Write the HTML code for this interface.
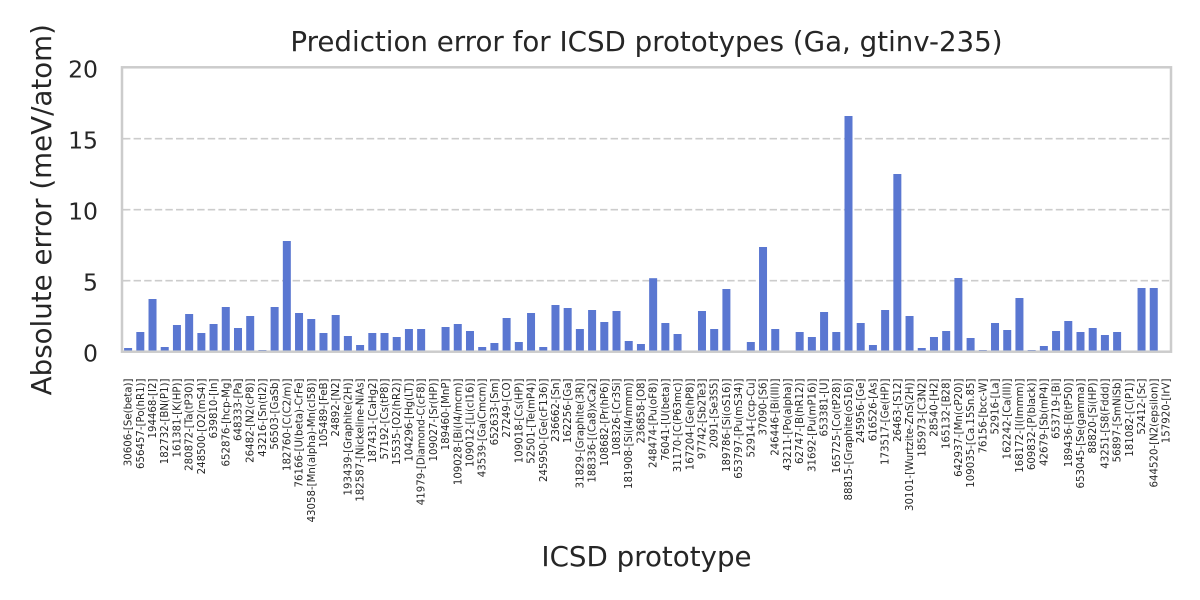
<!DOCTYPE html>
<html><head><meta charset="utf-8"><style>
html,body{margin:0;padding:0;background:#fff;}
svg{display:block;}
text{font-family:"DejaVu Sans","Liberation Sans",sans-serif;fill:#262626;}
.xt{font-size:10.2px;}
.yt{font-size:23.5px;}
.lab{font-size:27.7px;}
</style></head><body>
<svg width="1200" height="600" viewBox="0 0 1200 600" xmlns="http://www.w3.org/2000/svg">
<rect width="1200" height="600" fill="#fff"/>
<g stroke="#cccccc" stroke-width="1.7" stroke-dasharray="7.4 3.2">
<line x1="123" y1="280.7" x2="1171" y2="280.7"/>
<line x1="123" y1="209.7" x2="1171" y2="209.7"/>
<line x1="123" y1="138.7" x2="1171" y2="138.7"/>
</g>
<g fill="#5a77d1">
<rect x="124.10" y="348.0" width="8" height="3.7"/>
<rect x="136.31" y="332.0" width="8" height="19.7"/>
<rect x="148.52" y="299.0" width="8" height="52.7"/>
<rect x="160.73" y="347.0" width="8" height="4.7"/>
<rect x="172.94" y="325.0" width="8" height="26.7"/>
<rect x="185.15" y="314.0" width="8" height="37.7"/>
<rect x="197.36" y="333.0" width="8" height="18.7"/>
<rect x="209.57" y="324.0" width="8" height="27.7"/>
<rect x="221.78" y="307.0" width="8" height="44.7"/>
<rect x="233.99" y="328.0" width="8" height="23.7"/>
<rect x="246.20" y="316.0" width="8" height="35.7"/>
<rect x="258.41" y="350.0" width="8" height="1.7"/>
<rect x="270.62" y="307.0" width="8" height="44.7"/>
<rect x="282.83" y="241.0" width="8" height="110.7"/>
<rect x="295.04" y="313.0" width="8" height="38.7"/>
<rect x="307.25" y="319.0" width="8" height="32.7"/>
<rect x="319.46" y="333.0" width="8" height="18.7"/>
<rect x="331.67" y="315.0" width="8" height="36.7"/>
<rect x="343.88" y="336.0" width="8" height="15.7"/>
<rect x="356.09" y="345.0" width="8" height="6.7"/>
<rect x="368.30" y="333.0" width="8" height="18.7"/>
<rect x="380.51" y="333.0" width="8" height="18.7"/>
<rect x="392.72" y="337.0" width="8" height="14.7"/>
<rect x="404.93" y="329.0" width="8" height="22.7"/>
<rect x="417.14" y="329.0" width="8" height="22.7"/>
<rect x="429.35" y="351.0" width="8" height="0.7"/>
<rect x="441.56" y="327.0" width="8" height="24.7"/>
<rect x="453.77" y="324.0" width="8" height="27.7"/>
<rect x="465.98" y="331.0" width="8" height="20.7"/>
<rect x="478.19" y="347.0" width="8" height="4.7"/>
<rect x="490.40" y="343.0" width="8" height="8.7"/>
<rect x="502.61" y="318.0" width="8" height="33.7"/>
<rect x="514.83" y="342.0" width="8" height="9.7"/>
<rect x="527.04" y="313.0" width="8" height="38.7"/>
<rect x="539.25" y="347.0" width="8" height="4.7"/>
<rect x="551.46" y="305.0" width="8" height="46.7"/>
<rect x="563.67" y="308.0" width="8" height="43.7"/>
<rect x="575.88" y="329.0" width="8" height="22.7"/>
<rect x="588.09" y="310.0" width="8" height="41.7"/>
<rect x="600.30" y="322.0" width="8" height="29.7"/>
<rect x="612.51" y="311.0" width="8" height="40.7"/>
<rect x="624.72" y="341.0" width="8" height="10.7"/>
<rect x="636.93" y="344.0" width="8" height="7.7"/>
<rect x="649.14" y="278.2" width="8" height="73.5"/>
<rect x="661.35" y="323.0" width="8" height="28.7"/>
<rect x="673.56" y="334.0" width="8" height="17.7"/>
<rect x="685.77" y="351.0" width="8" height="0.7"/>
<rect x="697.98" y="311.0" width="8" height="40.7"/>
<rect x="710.19" y="329.0" width="8" height="22.7"/>
<rect x="722.40" y="289.0" width="8" height="62.7"/>
<rect x="746.82" y="342.0" width="8" height="9.7"/>
<rect x="759.03" y="247.0" width="8" height="104.7"/>
<rect x="771.24" y="329.0" width="8" height="22.7"/>
<rect x="783.45" y="351.0" width="8" height="0.7"/>
<rect x="795.66" y="332.0" width="8" height="19.7"/>
<rect x="807.87" y="337.0" width="8" height="14.7"/>
<rect x="820.08" y="312.0" width="8" height="39.7"/>
<rect x="832.29" y="332.0" width="8" height="19.7"/>
<rect x="844.50" y="116.0" width="8" height="235.7"/>
<rect x="856.71" y="323.0" width="8" height="28.7"/>
<rect x="868.92" y="345.0" width="8" height="6.7"/>
<rect x="881.13" y="310.0" width="8" height="41.7"/>
<rect x="893.34" y="174.0" width="8" height="177.7"/>
<rect x="905.55" y="316.0" width="8" height="35.7"/>
<rect x="917.76" y="348.0" width="8" height="3.7"/>
<rect x="929.97" y="337.0" width="8" height="14.7"/>
<rect x="942.18" y="331.0" width="8" height="20.7"/>
<rect x="954.39" y="278.0" width="8" height="73.7"/>
<rect x="966.60" y="338.0" width="8" height="13.7"/>
<rect x="978.81" y="350.0" width="8" height="1.7"/>
<rect x="991.02" y="323.0" width="8" height="28.7"/>
<rect x="1003.23" y="330.0" width="8" height="21.7"/>
<rect x="1015.44" y="298.0" width="8" height="53.7"/>
<rect x="1027.65" y="350.0" width="8" height="1.7"/>
<rect x="1039.86" y="346.0" width="8" height="5.7"/>
<rect x="1052.07" y="331.0" width="8" height="20.7"/>
<rect x="1064.28" y="321.0" width="8" height="30.7"/>
<rect x="1076.49" y="332.0" width="8" height="19.7"/>
<rect x="1088.70" y="328.0" width="8" height="23.7"/>
<rect x="1100.91" y="335.0" width="8" height="16.7"/>
<rect x="1113.12" y="332.0" width="8" height="19.7"/>
<rect x="1125.33" y="351.0" width="8" height="0.7"/>
<rect x="1137.54" y="288.0" width="8" height="63.7"/>
<rect x="1149.75" y="288.0" width="8" height="63.7"/>
</g>
<g fill="none" stroke="#cccccc" stroke-width="2.5">
<rect x="122" y="67.3" width="1049" height="284.4"/>
</g>
<g class="yt" text-anchor="end">
<text x="98" y="361.7">0</text>
<text x="98" y="290.7">5</text>
<text x="98" y="219.7">10</text>
<text x="98" y="148.7">15</text>
<text x="98" y="77.7">20</text>
</g>
<g class="xt" text-anchor="end">
<text transform="translate(131.60,378.5) rotate(-90)">30606-[Se(beta)]</text>
<text transform="translate(143.81,378.5) rotate(-90)">656457-[Po(hR1)]</text>
<text transform="translate(156.02,378.5) rotate(-90)">194468-[I2]</text>
<text transform="translate(168.23,378.5) rotate(-90)">182732-[BN(P1)]</text>
<text transform="translate(180.44,378.5) rotate(-90)">161381-[K(HP)]</text>
<text transform="translate(192.65,378.5) rotate(-90)">280872-[Ta(tP30)]</text>
<text transform="translate(204.86,378.5) rotate(-90)">248500-[O2(mS4)]</text>
<text transform="translate(217.07,378.5) rotate(-90)">639810-[In]</text>
<text transform="translate(229.28,378.5) rotate(-90)">652876-[hcp-Mg]</text>
<text transform="translate(241.49,378.5) rotate(-90)">648333-[Pa]</text>
<text transform="translate(253.70,378.5) rotate(-90)">26482-[N2(cP8)]</text>
<text transform="translate(265.91,378.5) rotate(-90)">43216-[Sn(tI2)]</text>
<text transform="translate(278.12,378.5) rotate(-90)">56503-[GaSb]</text>
<text transform="translate(290.33,378.5) rotate(-90)">182760-[C(C2/m)]</text>
<text transform="translate(302.54,378.5) rotate(-90)">76166-[U(beta)-CrFe]</text>
<text transform="translate(314.75,378.5) rotate(-90)">43058-[Mn(alpha)-Mn(cI58)]</text>
<text transform="translate(326.96,378.5) rotate(-90)">105489-[FeB]</text>
<text transform="translate(339.17,378.5) rotate(-90)">24892-[N2]</text>
<text transform="translate(351.38,378.5) rotate(-90)">193439-[Graphite(2H)]</text>
<text transform="translate(363.59,378.5) rotate(-90)">182587-[Nickeline-NiAs]</text>
<text transform="translate(375.80,378.5) rotate(-90)">187431-[CaHg2]</text>
<text transform="translate(388.01,378.5) rotate(-90)">57192-[Cs(tP8)]</text>
<text transform="translate(400.22,378.5) rotate(-90)">15535-[O2(hR2)]</text>
<text transform="translate(412.43,378.5) rotate(-90)">104296-[Hg(LT)]</text>
<text transform="translate(424.64,378.5) rotate(-90)">41979-[Diamond-C(cF8)]</text>
<text transform="translate(436.85,378.5) rotate(-90)">109027-[Sr(HP)]</text>
<text transform="translate(449.06,378.5) rotate(-90)">189460-[MnP]</text>
<text transform="translate(461.27,378.5) rotate(-90)">109028-[Bi(I4/mcm)]</text>
<text transform="translate(473.48,378.5) rotate(-90)">109012-[Li(cI16)]</text>
<text transform="translate(485.69,378.5) rotate(-90)">43539-[Ga(Cmcm)]</text>
<text transform="translate(497.90,378.5) rotate(-90)">652633-[Sm]</text>
<text transform="translate(510.11,378.5) rotate(-90)">27249-[CO]</text>
<text transform="translate(522.33,378.5) rotate(-90)">109018-[Cs(HP)]</text>
<text transform="translate(534.54,378.5) rotate(-90)">52501-[Te(mP4)]</text>
<text transform="translate(546.75,378.5) rotate(-90)">245950-[Ge(cF136)]</text>
<text transform="translate(558.96,378.5) rotate(-90)">236662-[Sn]</text>
<text transform="translate(571.17,378.5) rotate(-90)">162256-[Ga]</text>
<text transform="translate(583.38,378.5) rotate(-90)">31829-[Graphite(3R)]</text>
<text transform="translate(595.59,378.5) rotate(-90)">188336-[(Ca8)xCa2]</text>
<text transform="translate(607.80,378.5) rotate(-90)">108682-[Pr(hP6)]</text>
<text transform="translate(620.01,378.5) rotate(-90)">108326-[Cr3Si]</text>
<text transform="translate(632.22,378.5) rotate(-90)">181908-[Si(I4/mmm)]</text>
<text transform="translate(644.43,378.5) rotate(-90)">236858-[O8]</text>
<text transform="translate(656.64,378.5) rotate(-90)">248474-[Pu(oF8)]</text>
<text transform="translate(668.85,378.5) rotate(-90)">76041-[U(beta)]</text>
<text transform="translate(681.06,378.5) rotate(-90)">31170-[C(P63mc)]</text>
<text transform="translate(693.27,378.5) rotate(-90)">167204-[Ge(hP8)]</text>
<text transform="translate(705.48,378.5) rotate(-90)">97742-[Sb2Te3]</text>
<text transform="translate(717.69,378.5) rotate(-90)">2091-[Se3S5]</text>
<text transform="translate(729.90,378.5) rotate(-90)">189786-[Si(oS16)]</text>
<text transform="translate(742.11,378.5) rotate(-90)">653797-[Pu(mS34)]</text>
<text transform="translate(754.32,378.5) rotate(-90)">52914-[ccp-Cu]</text>
<text transform="translate(766.53,378.5) rotate(-90)">37090-[S6]</text>
<text transform="translate(778.74,378.5) rotate(-90)">246446-[Bi(III)]</text>
<text transform="translate(790.95,378.5) rotate(-90)">43211-[Po(alpha)]</text>
<text transform="translate(803.16,378.5) rotate(-90)">62747-[B(hR12)]</text>
<text transform="translate(815.37,378.5) rotate(-90)">31692-[Pu(mP16)]</text>
<text transform="translate(827.58,378.5) rotate(-90)">653381-[U]</text>
<text transform="translate(839.79,378.5) rotate(-90)">165725-[Co(tP28)]</text>
<text transform="translate(852.00,378.5) rotate(-90)">88815-[Graphite(oS16)]</text>
<text transform="translate(864.21,378.5) rotate(-90)">245956-[Ge]</text>
<text transform="translate(876.42,378.5) rotate(-90)">616526-[As]</text>
<text transform="translate(888.63,378.5) rotate(-90)">173517-[Ge(HP)]</text>
<text transform="translate(900.84,378.5) rotate(-90)">26463-[S12]</text>
<text transform="translate(913.05,378.5) rotate(-90)">30101-[Wurtzite-ZnS(2H)]</text>
<text transform="translate(925.26,378.5) rotate(-90)">185973-[C3N2]</text>
<text transform="translate(937.47,378.5) rotate(-90)">28540-[H2]</text>
<text transform="translate(949.68,378.5) rotate(-90)">165132-[B28]</text>
<text transform="translate(961.89,378.5) rotate(-90)">642937-[Mn(cP20)]</text>
<text transform="translate(974.10,378.5) rotate(-90)">109035-[Ca.15Sn.85]</text>
<text transform="translate(986.31,378.5) rotate(-90)">76156-[bcc-W]</text>
<text transform="translate(998.52,378.5) rotate(-90)">52916-[La]</text>
<text transform="translate(1010.73,378.5) rotate(-90)">162242-[Ca(III)]</text>
<text transform="translate(1022.94,378.5) rotate(-90)">168172-[I(Immm)]</text>
<text transform="translate(1035.15,378.5) rotate(-90)">609832-[P(black)]</text>
<text transform="translate(1047.36,378.5) rotate(-90)">42679-[Sb(mP4)]</text>
<text transform="translate(1059.57,378.5) rotate(-90)">653719-[Bi]</text>
<text transform="translate(1071.78,378.5) rotate(-90)">189436-[B(tP50)]</text>
<text transform="translate(1083.99,378.5) rotate(-90)">653045-[Se(gamma)]</text>
<text transform="translate(1096.20,378.5) rotate(-90)">88820-[Si(HP)]</text>
<text transform="translate(1108.41,378.5) rotate(-90)">43251-[S8(Fddd)]</text>
<text transform="translate(1120.62,378.5) rotate(-90)">56897-[SmNiSb]</text>
<text transform="translate(1132.83,378.5) rotate(-90)">181082-[C(P1)]</text>
<text transform="translate(1145.04,378.5) rotate(-90)">52412-[Sc]</text>
<text transform="translate(1157.25,378.5) rotate(-90)">644520-[N2(epsilon)]</text>
<text transform="translate(1169.46,378.5) rotate(-90)">157920-[IrV]</text>
</g>
<text class="lab" x="646.5" y="51" text-anchor="middle">Prediction error for ICSD prototypes (Ga, gtinv-235)</text>
<text class="lab" x="646.5" y="566" text-anchor="middle">ICSD prototype</text>
<text class="lab" transform="translate(51,209.7) rotate(-90)" text-anchor="middle">Absolute error (meV/atom)</text>
</svg>
</body></html>
